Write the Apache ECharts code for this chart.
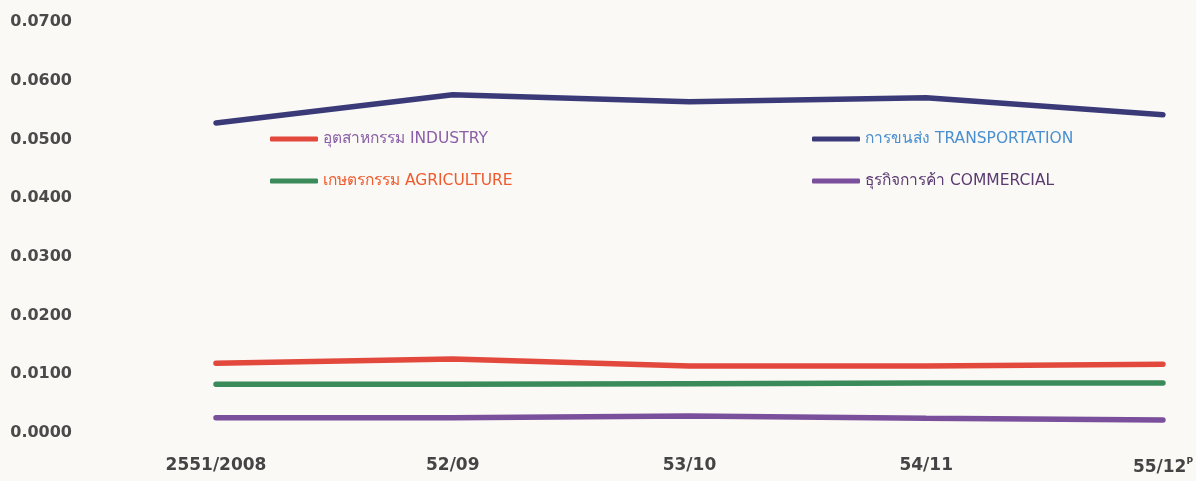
<!DOCTYPE html>
<html><head><meta charset="utf-8">
<script src="https://cdn.jsdelivr.net/npm/echarts@6/dist/echarts.min.js"></script>
<style>html,body{margin:0;padding:0;background:#faf9f5;}#c{width:1196px;height:481px;}</style>
</head><body><div id="c"></div>
<script>
const categories = ['2551/2008', '52/09', '53/10', '54/11', '55/12P'];
const transportation = [0.0528, 0.0576, 0.0564, 0.0571, 0.0542];
const industry = [0.0119, 0.0126, 0.0114, 0.0114, 0.0117];
const agriculture = [0.0083, 0.0083, 0.0084, 0.0085, 0.0085];
const commercial = [0.0026, 0.0026, 0.0029, 0.0025, 0.0022];
const names = {
  ind: 'อุตสาหกรรม INDUSTRY',
  agr: 'เกษตรกรรม AGRICULTURE',
  tra: 'การขนส่ง TRANSPORTATION',
  com: 'ธุรกิจการค้า COMMERCIAL'
};
const colors = {ind:'#e2483c', agr:'#3b8a5a', tra:'#3b3a78', com:'#7a4f9c'};
const textColors = {ind:'#8a5fa8', agr:'#ee5a2e', tra:'#4a8fd0', com:'#5b3a72'};
const chart = echarts.init(document.getElementById('c'));
const legendFont = '"DejaVu Sans", "Noto Sans", sans-serif';
const axisFont = '"DejaVu Sans", "Liberation Sans", sans-serif';
function legend(key, left, top){
  return {data:[names[key]], left:left, top:top, itemWidth:48, itemHeight:5, itemGap:0,
    icon:'roundRect', textStyle:{color:textColors[key], fontSize:15.5, fontFamily:legendFont, padding:[0,0,0,0]}, padding:0};
}
function ser(key, data){
  return {name:names[key], type:'line', data:data, symbol:'none', smooth:false,
    lineStyle:{width:5.5, color:colors[key], cap:'round'}, itemStyle:{color:colors[key]}};
}
chart.setOption({
  backgroundColor:'#faf9f5',
  animation:false,
  legend:[legend('ind',270,131), legend('agr',270,173), legend('tra',812,131), legend('com',812,173)],
  grid:{left:216, right:33, top:22, bottom:48},
  xAxis:{type:'category', data:categories, boundaryGap:false,
    axisLine:{show:false}, axisTick:{show:false},
    axisLabel:{margin:24, color:'#444', fontSize:17, fontWeight:'bold', fontFamily:axisFont,
      formatter:function(v){ return v.endsWith('P') ? v.slice(0,-1)+'{s|P}' : v; },
      rich:{s:{fontSize:9, color:'#444', fontWeight:'bold', fontFamily:axisFont, padding:[0,0,12,0]}}}},
  yAxis:{type:'value', min:0, max:0.07, interval:0.01,
    axisLine:{show:false}, axisTick:{show:false}, splitLine:{show:false},
    axisLabel:{align:'right', margin:144, color:'#4a4a4a', fontSize:16, fontWeight:'bold', fontFamily:axisFont,
      formatter:function(v){ return v.toFixed(4); }}},
  series:[ser('tra',transportation), ser('ind',industry), ser('agr',agriculture), ser('com',commercial)]
});
</script></body></html>
